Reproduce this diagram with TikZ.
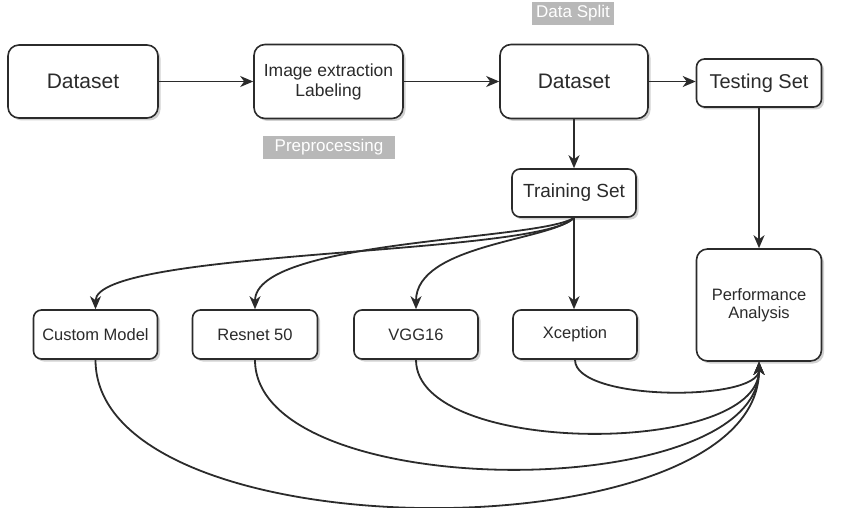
\documentclass[tikz,border=0pt]{standalone}
\usepackage{fontspec}
\setmainfont{Liberation Sans}
\usetikzlibrary{arrows.meta,shadows}
\definecolor{ink}{HTML}{2B2B2B}
\definecolor{lblgrey}{HTML}{B8B8B8}
\tikzset{
  box/.style={draw=ink, line width=1.6pt, rounded corners=11pt, fill=white, text=ink,
    align=center, inner sep=0pt,
    drop shadow={shadow xshift=2.5pt, shadow yshift=-2.5pt, opacity=0.3, fill=black!60}},
  smallbox/.style={box, rounded corners=8pt},
  tag/.style={fill=lblgrey, text=white, inner sep=0pt, minimum height=23pt},
  conn/.style={draw=ink, line width=1.8pt, -{Stealth[length=13pt,width=11pt,inset=4pt]}},
}
\begin{document}
\begin{tikzpicture}[x=1pt,y=-1pt]
\useasboundingbox (0,0) rectangle (843,508);
% top row
\node[box, minimum width=150pt, minimum height=73pt, font=\fontsize{21}{25}\selectfont] (d1) at (83,81.5) {Dataset};
\node[box, minimum width=149pt, minimum height=74pt, font=\fontsize{17.5}{20}\selectfont] (ie) at (328.5,81.5) {Image extraction\\Labeling};
\node[box, minimum width=148pt, minimum height=74pt, font=\fontsize{21}{25}\selectfont] (d2) at (574,81.5) {Dataset};
\node[smallbox, minimum width=125pt, minimum height=48pt, font=\fontsize{20}{24}\selectfont] (test) at (759,83) {Testing Set};
\node[tag, minimum width=132pt, font=\fontsize{17}{20}\selectfont] (pre) at (329,147.5) {Preprocessing};
\node[tag, minimum width=82pt, font=\fontsize{17}{20}\selectfont] (split) at (573,13.5) {Data Split};
% training
\node[smallbox, minimum width=124pt, minimum height=48pt, font=\fontsize{19}{23}\selectfont] (train) at (574,193) {Training Set};
% models
\node[smallbox, minimum width=124pt, minimum height=49pt, font=\fontsize{16.5}{20}\selectfont] (cm) at (95.5,334.5) {Custom Model};
\node[smallbox, minimum width=125pt, minimum height=49pt, font=\fontsize{16.5}{20}\selectfont] (rn) at (255,334.5) {Resnet 50};
\node[smallbox, minimum width=124pt, minimum height=49pt, font=\fontsize{16.5}{20}\selectfont] (vgg) at (416,334.5) {VGG16};
\node[smallbox, minimum width=124pt, minimum height=49pt, font=\fontsize{16.5}{20}\selectfont] (xc) at (575,334.5) {Xception};
\node[box, minimum width=125pt, minimum height=112pt, font=\fontsize{16.5}{18.5}\selectfont] (pa) at (759,305) {Performance\\Analysis};
% connectors
\draw[conn] (d1) -- (ie);
\draw[conn] (ie) -- (d2);
\draw[conn] (d2.east) -- (test.west |- d2.east);
\draw[conn] (d2) -- (train);
\draw[conn] (test) -- (pa);
\draw[conn] (train.south) .. controls +(-34,38) and +(0,-60) .. (cm.north);
\draw[conn] (train.south) .. controls +(-34,23) and +(0,-70) .. (rn.north);
\draw[conn] (train.south) .. controls +(-24,23) and +(0,-65) .. (vgg.north);
\draw[conn] (train.south) -- (train.south |- xc.north);
\draw[conn] (cm.south) .. controls +(0,196) and +(0,194) .. (pa.south);
\draw[conn] (rn.south) .. controls +(0,145) and +(0,143) .. (pa.south);
\draw[conn] (vgg.south) .. controls +(0,97) and +(0,95) .. (pa.south);
\draw[conn] (xc.south) .. controls +(0,42) and +(0,40) .. (pa.south);
\end{tikzpicture}
\end{document}
